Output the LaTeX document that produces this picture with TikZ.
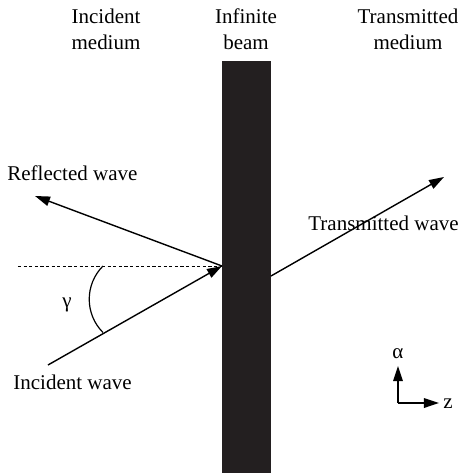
\documentclass[tikz,border=0pt]{standalone}
\usepackage{fontspec}
\setmainfont{Liberation Serif}
\usetikzlibrary{arrows.meta,positioning}
\definecolor{beamblack}{HTML}{231F20}
\tikzset{
  wave/.style={-{Triangle[length=7.5pt,width=4.8pt]}, line width=0.7pt, draw=black},
  txt/.style={font=\rmfamily\fontsize{10.5}{13}\selectfont, inner sep=0pt},
  beam/.style={rectangle, fill=beamblack, draw=none, inner sep=0pt, minimum width=24.5pt, minimum height=206pt},
  normal/.style={dashed, dash pattern=on 1.6pt off 1.2pt, line width=0.5pt}
}
\newcommand{\twolines}[2]{\begin{tabular}{@{}c@{}}#1\\#2\end{tabular}}
\begin{document}
\begin{tikzpicture}[x=0.5pt, y=-0.5pt]
  \useasboundingbox (0,0) rectangle (462,473);

  % headings
  \node[txt, anchor=north] (incmed) at (106,5) {\twolines{Incident}{medium}};
  \node[txt, anchor=north] (beamlbl) at (246,5) {\twolines{Infinite}{beam}};
  \node[txt, anchor=north] (trmed) at (408,5) {\twolines{Transmitted}{medium}};

  % the beam
  \node[beam, anchor=north west] (bm) at (222,61) {};

  % waves
  \coordinate (hit) at (222,266);
  \coordinate (incstart) at (48,365);
  \coordinate (refltip) at (35,196);
  \coordinate (trstart) at (271,276);
  \coordinate (trtip) at (444,177);
  \coordinate (normend) at (18,266);

  \draw[normal] (normend) -- (hit);
  \draw[wave] (incstart) -- (hit);
  \draw[wave] (hit) -- (refltip);
  \draw[wave] (trstart) -- (trtip);

  % angle
  \draw[line width=0.6pt] (103,266) arc[start angle=225, end angle=135, radius=47];
  \node[txt] (gam) at (67,305) {γ};

  \node[txt, anchor=base west] (refl) at (7,180) {Reflected wave};
  \node[txt, anchor=base west] (inc) at (13,389) {Incident wave};
  \node[txt, anchor=base west] (trans) at (308,230) {Transmitted wave};

  % axes
  \coordinate (orig) at (398,403);
  \coordinate (atip) at (398,366);
  \coordinate (ztip) at (439,403);
  \draw[wave] (orig) -- (atip);
  \draw[wave] (orig) -- (ztip);
  \node[txt] (alab) at (398,354) {α};
  \node[txt] (zlab) at (448,404) {z};
\end{tikzpicture}
\end{document}
